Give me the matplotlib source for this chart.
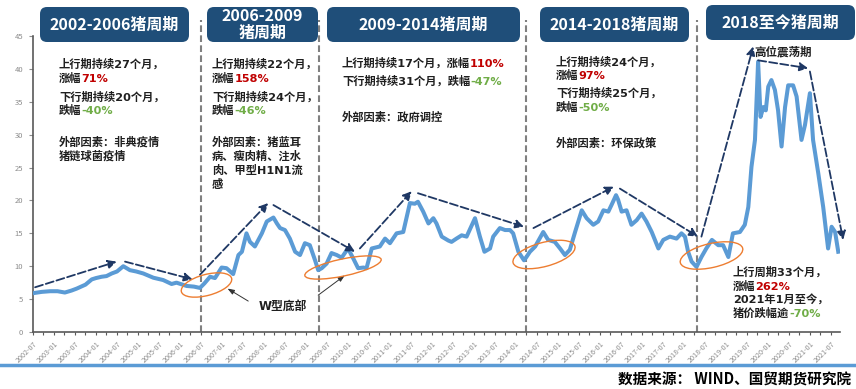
import matplotlib.pyplot as plt
from matplotlib.patches import FancyBboxPatch, Ellipse
from matplotlib.lines import Line2D

plt.rcParams['font.family'] = ['Noto Sans CJK SC', 'DejaVu Sans']
# body text: latin/digits in DejaVu (wide, like the original), chinese falls back to Noto
body_font = ['DejaVu Sans', 'Noto Sans CJK SC']

# months counted from 2002-07, pig price (yuan/kg)
months = [0, 2.5, 4.9, 7, 9.1, 11, 12.5, 15, 16.8, 18, 19.6, 21, 22.5, 24, 25.8,
          27.7, 29.5, 31.5, 34.4, 37.2, 39.6, 41, 43.9, 46, 47.7, 49, 50.6, 52,
          53.9, 55.3, 57.2, 58.7, 59.7, 61, 62, 63.4, 65.4, 66.8, 68.7, 69.7,
          70.6, 72, 73.4, 74.9, 76.3, 77.7, 79.1, 80.6, 81.5, 82.5, 83.9, 85.3,
          86.8, 88.2, 90, 91.5, 92.9, 94.4, 95.3, 96.8, 99.1, 100.6, 102, 103.9,
          105.8, 107.7, 109.1, 110, 111.5, 113, 114.4, 115.3, 116.8, 118.7,
          119.6, 121, 122.5, 123.9, 126.3, 127.7, 129, 130.6, 131.5, 133.4,
          134.9, 136.3, 137.2, 138.7, 140.3, 141, 142, 143.5, 145.8, 147.2,
          149.1, 150.6, 152, 153.4, 154.9, 156.8, 158.2, 160.1, 161.5, 163,
          164.4, 165.3, 166.6, 167.2, 168.2, 169.6, 171, 172.5, 173.9, 175.3,
          176.8, 178.7, 180.1, 182, 183.9, 185.3, 186.3, 187.2, 188.2, 189.6,
          191, 192.4, 194, 195.8, 197.2, 198.7, 200, 202, 203.4, 204.4, 205.3,
          206.3, 207.2, 207.9, 208.7, 209.4, 210.1, 211, 212, 212.9, 213.9,
          214.9, 215.8, 217.2, 218.2, 219.6, 220.6, 222, 222.9, 224.4, 225.8,
          227.2, 228.2, 229.2, 230.1]
prices = [5.9, 6.1, 6.2, 6.2, 6.0, 6.3, 6.6, 7.2, 8.0, 8.2, 8.4, 8.5, 8.9, 9.2, 10.0,
          9.4, 9.2, 8.9, 8.25, 7.9, 7.3, 7.5, 7.0, 6.9, 6.7, 7.4, 8.4, 8.2,
          9.8, 9.7, 8.8, 11.7, 12.2, 15.0, 13.7, 13.0, 15.0, 16.8, 17.4, 16.5,
          15.8, 15.5, 14.2, 12.2, 11.7, 13.5, 13.2, 10.9, 9.4, 9.7, 10.4, 12.0,
          11.7, 11.3, 12.7, 11.2, 9.7, 9.8, 9.7, 12.7, 13.0, 14.2, 13.5, 15.0,
          15.2, 19.6, 19.5, 19.8, 18.3, 16.5, 17.3, 16.5, 14.5, 13.9,
          13.7, 14.2, 14.7, 14.5, 17.3, 14.5, 12.2, 12.7, 14.5, 15.8,
          15.5, 15.5, 15.0, 12.2, 10.9, 11.4, 12.2, 13.0, 15.2, 14.0,
          13.7, 12.7, 11.7, 12.5, 15.2, 18.5, 17.3, 16.3, 16.8, 18.5,
          18.3, 19.3, 20.8, 20.1, 18.3, 18.5, 16.3, 17.0, 18.0, 16.8,
          15.2, 12.7, 14.0, 14.5, 14.2, 15.0, 14.5, 12.2, 10.7, 9.9,
          11.4, 12.7, 14.0, 13.2, 13.2, 11.4, 15.0, 15.2, 16.3, 19.0, 25.1,
          29.2, 41.1, 32.7, 34.2, 33.7, 37.3, 38.3, 36.8, 33.7, 28.2,
          34.2, 37.5, 37.5, 35.8, 29.2, 31.5, 36.3, 29.2, 24.1, 19.0,
          12.7, 16.0, 15.2, 12.2]

# cycle boundaries (months from 2002-07)
cycle_breaks = [48, 81.8, 140.8, 189.6]

# trend arrows: (start, end) in (month, price)
trend_arrows = [((0.6, 6.8), (23.9, 10.7)), ((26.3, 10.7), (45.6, 8.0)),
                ((47.7, 8.7), (67.2, 19.6)), ((68.7, 19.3), (92.0, 12.2)),
                ((93.4, 12.7), (108.2, 21.4)), ((110.0, 21.1), (140.3, 16.0)),
                ((143.0, 15.8), (166.0, 22.1)), ((167.7, 21.8), (190.0, 14.5)),
                ((191.0, 14.5), (205.8, 43.4)), ((207.2, 41.3), (221.5, 40.1)),
                ((222.0, 39.6), (231.5, 14.0))]

tick_labels = []
for i in range(39):
    a = 2002 * 12 + 6 + 6 * i
    tick_labels.append('%d-%02d' % (a // 12, a % 12 + 1))

W, H = 856, 389
navy = '#1F3864'
red = '#C00000'
green = '#70AD47'
dark = '#1F1F1F'

fig = plt.figure(figsize=(W / 100, H / 100), dpi=100)
ax = fig.add_axes([33 / W, 57 / H, 807 / W, 296 / H])

ax.plot(months, prices, color='#5B9BD5', lw=2.9, solid_joinstyle='round', zorder=3)
ax.set_xlim(0, 230.6)
ax.set_ylim(0, 45)

for s in ['top', 'right']:
    ax.spines[s].set_visible(False)
for s in ['left', 'bottom']:
    ax.spines[s].set_color('#595959')
    ax.spines[s].set_linewidth(1.2)

ax.set_yticks(range(0, 46, 5))
ax.tick_params(axis='y', labelsize=5.5, colors='#8C8C8C', length=3, width=0.8, pad=4)
ax.set_xticks(range(0, 229, 6))
ax.set_xticks(range(3, 231, 6), minor=True)
ax.set_xticklabels(tick_labels, rotation=45, ha='right', va='top',
                   rotation_mode='anchor', fontsize=5.2, color='#8C8C8C')
ax.tick_params(axis='x', which='both', length=2.5, width=0.8, colors='#595959', pad=3)
for lbl in ax.get_xticklabels():
    lbl.set_color('#8C8C8C')

# cycle separators
for b in cycle_breaks:
    ax.axvline(b, ymin=0, ymax=(332 - 20) / 296, color='#808080', lw=1.5,
               ls=(0, (3.2, 1.6)), clip_on=False, zorder=2)

# trend arrows
for start, end in trend_arrows:
    ax.annotate('', xy=end, xytext=start,
                arrowprops=dict(arrowstyle='-|>,head_length=0.5,head_width=0.25',
                                color=navy, lw=1.3, ls=(0, (4.5, 1.7)),
                                shrinkA=0, shrinkB=0),
                annotation_clip=False, zorder=4)

# W bottom pointers
for start, end in [((61.5, 4.7), (55.6, 6.6)), ((81.5, 5.6), (89.1, 8.6))]:
    ax.annotate('', xy=end, xytext=start,
                arrowprops=dict(arrowstyle='-|>,head_length=0.4,head_width=0.15',
                                color='#333333', lw=0.7, shrinkA=0, shrinkB=0))
ax.text(71.5, 3.85, 'W型底部', fontsize=8.5, fontweight='bold', color=dark,
        ha='center', va='center', family=body_font)

# orange ellipses (pixel geometry)
for cx, cy, w, h, ang in [(206.5, 285, 52, 21, 15), (343, 267.5, 78, 17, 12),
                          (544, 254.5, 64, 24, 15), (711.5, 255.5, 64, 24, 13)]:
    fig.add_artist(Ellipse((cx / 100, (H - cy) / 100), w / 100, h / 100, angle=ang,
                           transform=fig.dpi_scale_trans, fill=False,
                           ec='#ED7D31', lw=1.0, zorder=5))


def line(x, y, s, tail=None, tail_color=None, size=8.1, ha='left', weight='bold'):
    t = fig.text(x / W, 1 - y / H, s, fontsize=size, fontweight=weight,
                 color=dark, ha=ha, va='center', family=body_font)
    if tail:
        ax.annotate(tail, xy=(1, 0), xycoords=t, fontsize=size, fontweight=weight,
                    color=tail_color, ha='left', va='bottom', family=body_font)
    return t


# headers
headers = [(40, 189, 7, 42, '2002-2006猪周期'), (207, 318, 7, 42, '2006-2009\n猪周期'),
           (327, 520, 7, 42, '2009-2014猪周期'), (540, 689, 7, 42, '2014-2018猪周期'),
           (706, 855, 5, 40, '2018至今猪周期')]
for x0, x1, y0, y1, s in headers:
    fig.add_artist(FancyBboxPatch((x0 / 100, (H - y1) / 100), (x1 - x0) / 100,
                                  (y1 - y0) / 100,
                                  boxstyle='round,pad=0,rounding_size=0.07',
                                  transform=fig.dpi_scale_trans,
                                  fc='#1F4E79', ec='none'))
    fig.text((x0 + x1) / 2 / W, 1 - (y0 + y1) / 2 / H, s, color='white',
             fontsize=11.5, fontweight='bold', ha='center', va='center',
             linespacing=1.05)

# cycle 1
line(59, 64, '上行期持续27个月，')
line(59, 78, '涨幅', '71%', red)
line(59, 97, '下行期持续20个月，')
line(59, 110, '跌幅', '-40%', green)
line(59, 142, '外部因素：非典疫情')
line(59, 156, '猪链球菌疫情')

# cycle 2
line(212, 64, '上行期持续22个月，')
line(212, 78, '涨幅', '158%', red)
line(212, 97, '下行期持续24个月，')
line(212, 110, '跌幅', '-46%', green)
line(212, 142, '外部因素：猪蓝耳')
line(212, 156, '病、瘦肉精、注水')
line(212, 170, '肉、甲型H1N1流')
line(212, 184, '感')

# cycle 3
line(342, 63, '上行期持续17个月，涨幅', '110%', red)
line(342, 81, '下行期持续31个月，跌幅', '-47%', green)
line(342, 117, '外部因素：政府调控')

# cycle 4
line(556, 62, '上行期持续24个月，')
line(556, 75, '涨幅', '97%', red)
line(556, 93, '下行期持续25个月，')
line(556, 107, '跌幅', '-50%', green)
line(556, 143, '外部因素：环保政策')

# cycle 5
line(782.7, 52, '高位震荡期', ha='center', size=8.3)
line(733, 272, '上行周期33个月，')
line(733, 286, '涨幅', '262%', red)
line(733, 299.5, '2021年1月至今，')
line(733, 313.5, '猪价跌幅逾', '-70%', green)

# footer
fig.add_artist(Line2D([0, 1], [1 - 365 / H] * 2, color='#5B9BD5', lw=2.5,
                      transform=fig.transFigure))
fig.text(851 / W, 1 - 380 / H, '数据来源： WIND、国贸期货研究院', ha='right',
         va='center', fontsize=10.5, fontweight='bold', color='black')

fig.savefig('out.png', dpi=100)
